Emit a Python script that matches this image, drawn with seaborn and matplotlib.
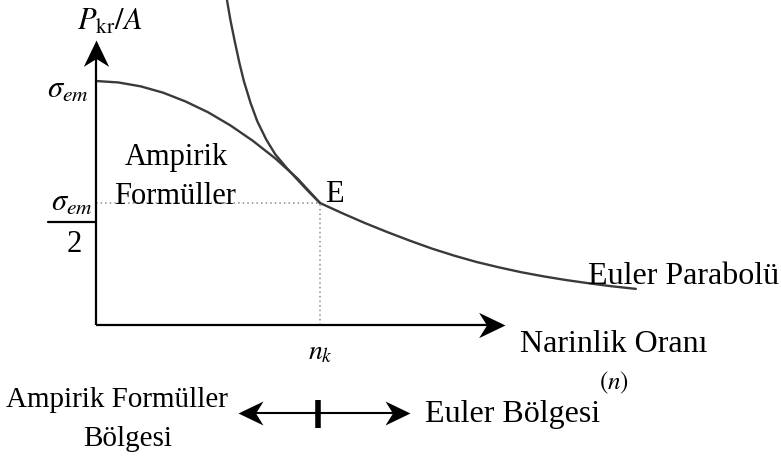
import numpy as np
import pandas as pd
import matplotlib
matplotlib.use("Agg")
import matplotlib.pyplot as plt
from matplotlib.path import Path
import seaborn as sns

# Slenderness in units of n_k, stress in units of sigma_em
johnson_x = [0.0, 0.1, 0.2, 0.3, 0.4, 0.5, 0.6, 0.7, 0.8, 0.9, 1.0]
johnson_y = [1.0, 0.994, 0.978, 0.952, 0.916, 0.872, 0.818, 0.755, 0.683,
             0.600, 0.5]

euler_x = [0.585, 0.60, 0.62, 0.64, 0.66, 0.69, 0.72, 0.76, 0.80, 0.85,
           0.90, 0.95, 1.0, 1.1, 1.2, 1.3, 1.4, 1.5, 1.6, 1.7, 1.8, 1.9,
           2.0, 2.1, 2.2, 2.3, 2.41]
euler_y = [1.33, 1.25, 1.16, 1.075, 1.0, 0.91, 0.835, 0.76, 0.70, 0.645,
           0.595, 0.546, 0.5, 0.458, 0.418, 0.381, 0.346, 0.313, 0.284,
           0.258, 0.236, 0.216, 0.199, 0.184, 0.171, 0.159, 0.148]

point_E = (1.0, 0.5)

sns.set_theme(style="white")
plt.rcParams["font.family"] = ["Liberation Serif", "DejaVu Serif"]
plt.rcParams["mathtext.fontset"] = "stix"
plt.rcParams["text.color"] = "black"

fig = plt.figure(figsize=(7.81, 4.57), dpi=100)
ax = fig.add_axes([0, 0, 1, 1])
ax.set_xlim(-96 / 224, (781 - 96) / 224)
ax.set_ylim(-132 / 244, 325 / 244)
ax.axis("off")

curve_color = "#3a3a3a"
df_j = pd.DataFrame({"n": johnson_x, "s": johnson_y})
df_e = pd.DataFrame({"n": euler_x, "s": euler_y})
sns.lineplot(data=df_j, x="n", y="s", ax=ax, color=curve_color, lw=1.7,
             sort=False, estimator=None)
sns.lineplot(data=df_e, x="n", y="s", ax=ax, color=curve_color, lw=1.7,
             sort=False, estimator=None)

# dotted guides to point E
ex, ey = point_E
ax.plot([0, ex], [ey, ey], ls=(0, (1, 2)), color="#8a8a8a", lw=1.1)
ax.plot([ex, ex], [0, ey], ls=(0, (1, 2)), color="#8a8a8a", lw=1.1)


def stealth(angle):
    verts = np.array([(0, 0), (-1, 0.48), (-0.7, 0), (-1, -0.48), (0, 0)])
    c, s = np.cos(angle), np.sin(angle)
    rot = verts @ np.array([[c, s], [-s, c]])
    codes = [Path.MOVETO, Path.LINETO, Path.LINETO, Path.LINETO, Path.CLOSEPOLY]
    return Path(rot, codes)


# coordinate axes with arrow heads
y_tip = 1.168
x_tip = 1.826
ax.plot([0, 0], [0, y_tip - 0.05], color="black", lw=1.6, solid_capstyle="butt")
ax.plot([0, x_tip - 0.06], [0, 0], color="black", lw=1.6, solid_capstyle="butt")
ax.plot([0], [y_tip], marker=stealth(np.pi / 2), ms=38, color="black", mew=0)
ax.plot([x_tip], [0], marker=stealth(0), ms=38, color="black", mew=0)

# region arrow beneath the chart
ay = -0.361
a_left, a_right = 0.634, 1.402
ax.plot([a_left + 0.05, a_right - 0.05], [ay, ay], color="black", lw=1.5)
ax.plot([a_left], [ay], marker=stealth(np.pi), ms=36, color="black", mew=0)
ax.plot([a_right], [ay], marker=stealth(0), ms=36, color="black", mew=0)
ax.plot([0.991, 0.991], [-0.307, -0.422], color="black", lw=4,
        solid_capstyle="butt")

fs = 22
ax.text(0.357, 0.656, "Ampirik", fontsize=fs, ha="center", va="baseline")
ax.text(0.353, 0.496, "Formüller", fontsize=fs, ha="center", va="baseline")
ax.text(1.022, 0.504, "E", fontsize=fs, ha="left", va="baseline")
ax.text(2.196, 0.168, "Euler Parabolü", fontsize=23, ha="left", va="baseline")
ax.text(1.893, -0.111, "Narinlik Oranı", fontsize=23, ha="left", va="baseline")
ax.text(2.313, -0.238, r"$(n)$", fontsize=18, ha="center", va="center")
ax.text(1.0, -0.115, r"$n_k$", fontsize=20, ha="center", va="center")
ax.text(0.0625, 1.242, r"$P_{\mathrm{kr}}/A$", fontsize=22, ha="center",
        va="center")
ax.text(-0.125, 0.963, r"$\sigma_{em}$", fontsize=22, ha="center", va="center")
ax.text(-0.107, 0.5, r"$\sigma_{em}$", fontsize=22, ha="center", va="center")
ax.plot([-0.214, 0.0], [0.422, 0.422], color="black", lw=1.6)
ax.text(-0.098, 0.328, "2", fontsize=fs, ha="center", va="center")
ax.text(0.094, -0.336, "Ampirik Formüller", fontsize=21, ha="center",
        va="baseline")
ax.text(0.143, -0.496, "Bölgesi", fontsize=21, ha="center", va="baseline")
ax.text(1.469, -0.398, "Euler Bölgesi", fontsize=23, ha="left", va="baseline")

fig.savefig("out.png", dpi=100)
